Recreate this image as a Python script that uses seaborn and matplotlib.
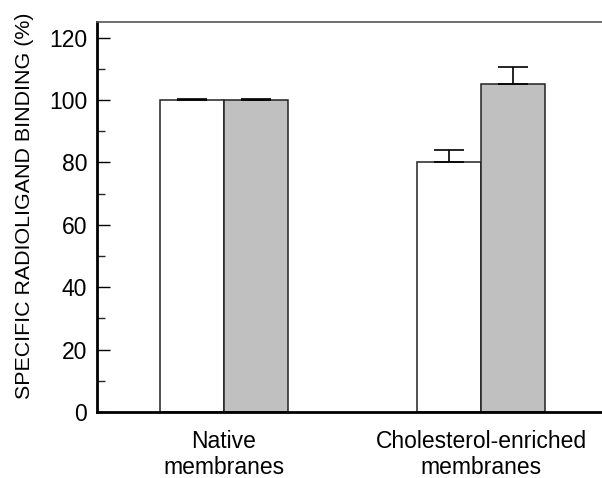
import numpy as np
import pandas as pd
import matplotlib
matplotlib.use("Agg")
import matplotlib.pyplot as plt
import seaborn as sns
from matplotlib.ticker import MultipleLocator

# data
groups = ["Native\nmembranes", "Cholesterol-enriched\nmembranes"]
conditions = ["control", "treated"]
binding_control = [100, 80]
binding_treated = [100, 105]
err_control = [0.3, 4]
err_treated = [0.3, 5.5]

COLOR_WHITE = "#ffffff"
COLOR_GRAY = "#c0c0c0"
COLOR_EDGE = "#222222"

sns.set_theme(style="white")
plt.rcParams["font.family"] = ["Liberation Sans", "DejaVu Sans"]

df = pd.DataFrame({
    "group": groups * 2,
    "condition": [conditions[0]] * 2 + [conditions[1]] * 2,
    "binding": binding_control + binding_treated,
    "err": err_control + err_treated,
})

fig = plt.figure(figsize=(6.02, 4.78), dpi=100)
ax = fig.add_axes([0.161, 0.138, 0.839, 0.816])

sns.barplot(data=df, x="group", y="binding", hue="condition", order=groups,
            hue_order=conditions, palette=[COLOR_WHITE, COLOR_GRAY],
            width=0.5, errorbar=None, edgecolor=COLOR_EDGE, linewidth=1.1,
            legend=False, ax=ax)

# upward-only error bars
for bars, cond in zip(ax.containers, conditions):
    sub = df[df["condition"] == cond].set_index("group").loc[groups]
    xs = [b.get_x() + b.get_width() / 2 for b in bars]
    ax.errorbar(xs, sub["binding"], yerr=[np.zeros(len(xs)), sub["err"]],
                fmt="none", ecolor="black", elinewidth=1.2, capsize=11,
                capthick=1.2, zorder=1)

ax.set_ylim(0, 125)
ax.set_xlim(-0.494, 1.47)
ax.yaxis.set_major_locator(MultipleLocator(20))
ax.yaxis.set_minor_locator(MultipleLocator(10))
ax.tick_params(axis="y", which="major", direction="in", length=9, width=1,
               labelsize=16.5, left=True, pad=7, colors="black")
ax.tick_params(axis="y", which="minor", direction="in", length=6, width=1, left=True)
ax.tick_params(axis="x", length=0, labelsize=16.5, pad=13, colors="black")
for lbl in ax.get_xticklabels():
    lbl.set_linespacing(1.15)
ax.set_xlabel("")
ax.set_ylabel("SPECIFIC RADIOLIGAND BINDING (%)", fontsize=15.4, color="black")
ax.yaxis.set_label_coords(-0.125, 0.53)

for side in ["left", "bottom"]:
    ax.spines[side].set_color("black")
    ax.spines[side].set_linewidth(2)
ax.spines["top"].set_color("#555555")
ax.spines["top"].set_linewidth(1.2)
ax.spines["right"].set_visible(False)

fig.savefig("out.png", dpi=100)
